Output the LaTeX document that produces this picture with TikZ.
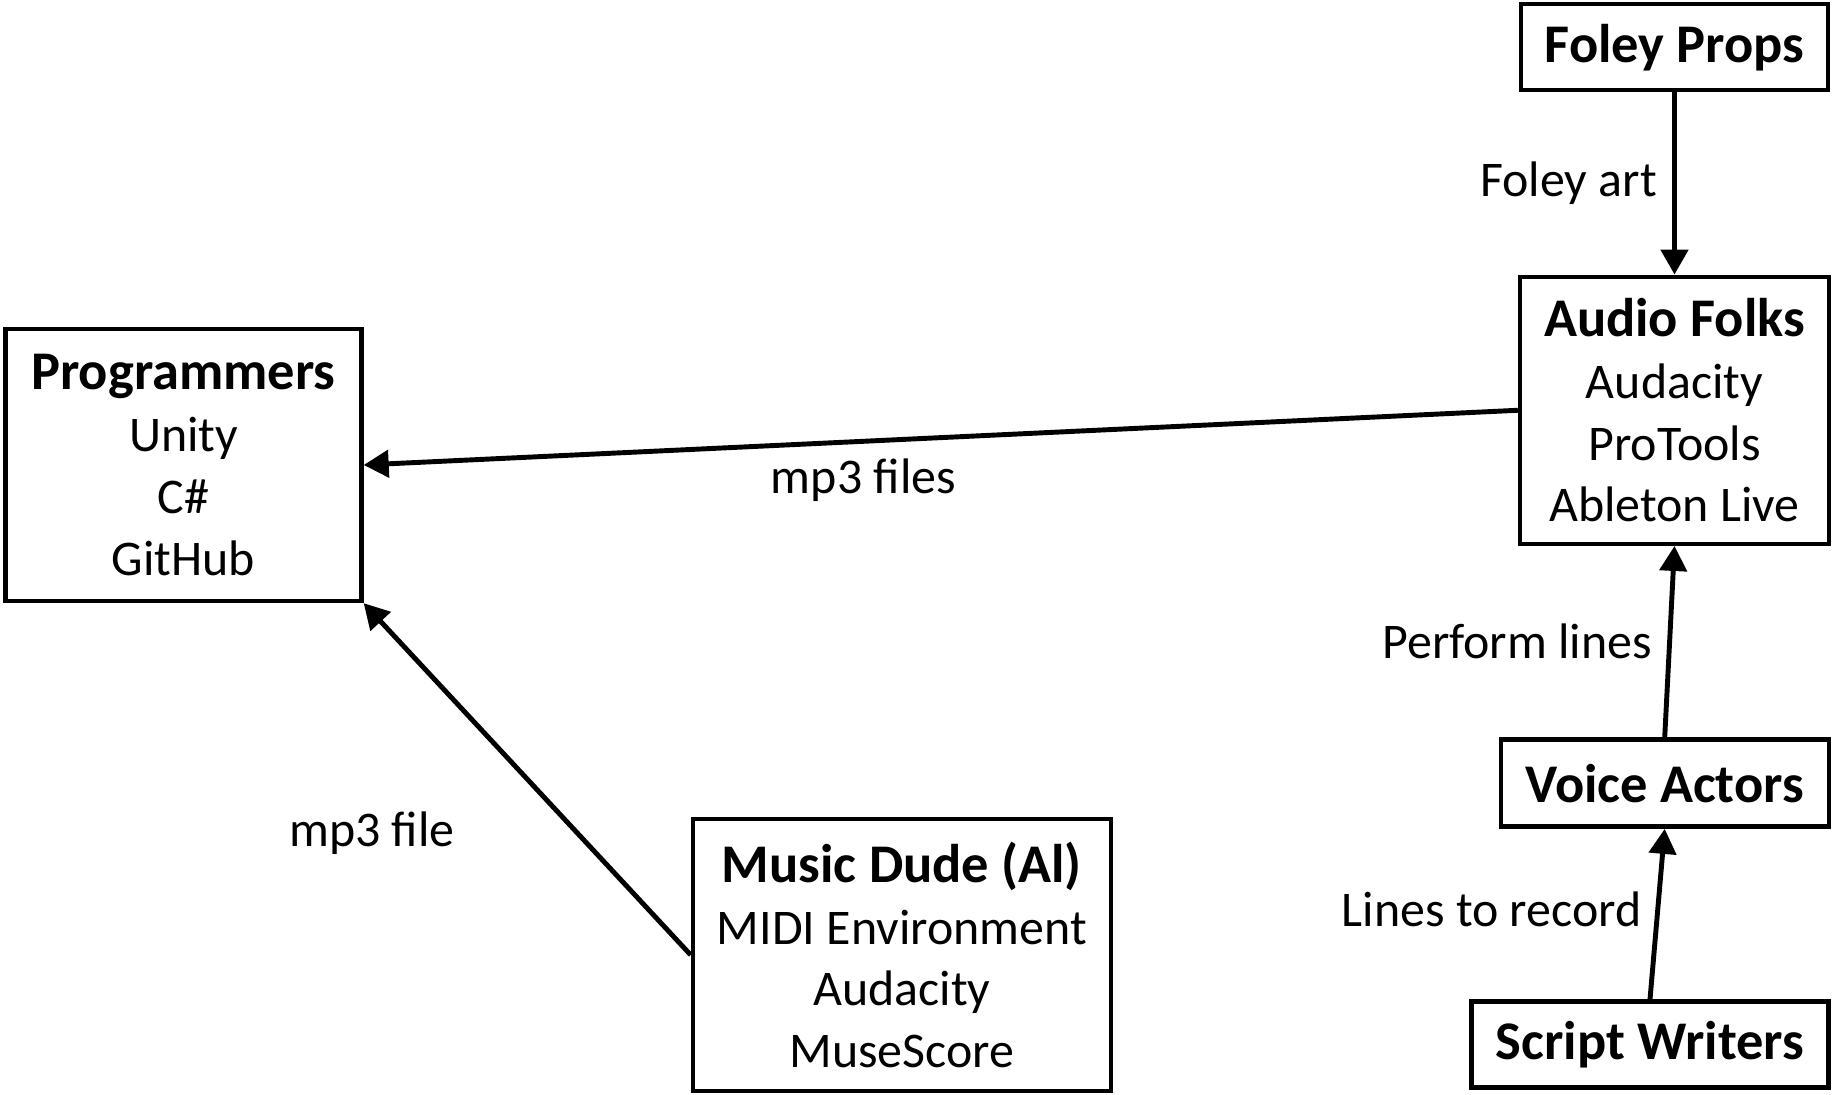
\documentclass[tikz,border=0pt]{standalone}
\usepackage{fontspec}
\setmainfont{Carlito}
\usetikzlibrary{arrows.meta}
\newcommand{\boxtitle}[1]{{\fontsize{15.5}{17.6}\selectfont\bfseries #1}}
\begin{document}
\begin{tikzpicture}[
    box/.style={draw, line width=1.25pt, align=center, inner sep=0pt,
        font=\fontsize{14.2}{17.6}\selectfont},
    flow/.style={line width=1.4pt, -{Triangle[length=2.5mm,width=2.7mm]}},
    lbl/.style={font=\fontsize{14.2}{17.6}\selectfont}]
    \useasboundingbox (0,0) rectangle (18.33,10.95);
    % boxes
    \node[box, minimum width=3.56cm, minimum height=2.72cm] (prog) at (1.835,6.30)
        {\boxtitle{Programmers}\\Unity\\C\#\\GitHub};
    \node[box, minimum width=3.07cm, minimum height=0.86cm] (foley) at (16.745,10.477)
        {\boxtitle{Foley Props}};
    \node[box, minimum width=3.09cm, minimum height=2.67cm] (audio) at (16.745,6.847)
        {\boxtitle{Audio Folks}\\Audacity\\ProTools\\Ableton Live};
    \node[box, minimum width=3.28cm, minimum height=0.87cm] (voice) at (16.647,3.118)
        {\boxtitle{Voice Actors}};
    \node[box, minimum width=3.57cm, minimum height=0.86cm] (script) at (16.50,0.505)
        {\boxtitle{Script Writers}};
    \node[box, minimum width=4.18cm, minimum height=2.72cm] (music) at (9.019,1.40)
        {\boxtitle{Music Dude (Al)}\\MIDI Environment\\Audacity\\MuseScore};
    % connectors
    \draw[flow] (foley) -- node[lbl, midway, left=1pt] {Foley art} (audio);
    \draw[flow] (audio.west) -- node[lbl, pos=.567, yshift=-3.9mm] {mp3 files} (prog.east);
    \draw[flow] (music.west) -- node[lbl, pos=.345, xshift=-20.6mm] {mp3 file} (prog.south east);
    \draw[flow] (voice.north) -- node[lbl, midway, left=1pt] {Perform lines} (audio.south);
    \draw[flow] (script.north) -- node[lbl, midway, left=0.5pt, yshift=0.5mm] {Lines to record} (voice.south);
\end{tikzpicture}
\end{document}
